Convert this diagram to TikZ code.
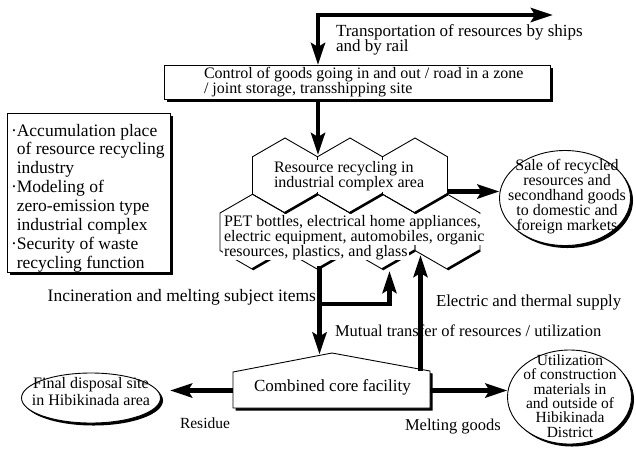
\documentclass[tikz,border=0pt]{standalone}
\usepackage{fontspec}
\setmainfont{Liberation Serif}
\usetikzlibrary{arrows.meta,shapes.geometric,shadows}
\newcommand{\myfs}[2]{\fontsize{#1}{#2}\selectfont}
\begin{document}
\begin{tikzpicture}[x=1pt,y=-1pt,
  every node/.style={inner sep=0pt, outer sep=0pt},
  lbl/.style={font=\myfs{17}{15.5}},
  boxshadow/.style={drop shadow={shadow xshift=2.5pt,shadow yshift=-2.5pt,fill=black,opacity=1}},
  framebox/.style={draw, line width=0.9pt, fill=white, boxshadow},
  hexline/.style={line width=0.9pt},
  hexshadow/.style={line width=2.6pt},
  pettxt/.style={font=\myfs{16}{15}, fill=white, inner xsep=1pt, inner ysep=0.8pt, anchor=base west},
  bigarrow/.style={line width=4.5pt, -{Stealth[length=22pt,width=14pt,inset=4pt]}},
  dblarrow/.style={line width=4.5pt, {Stealth[length=22pt,width=14pt,inset=4pt]}-{Stealth[length=22pt,width=14pt,inset=4pt]}},
]
\useasboundingbox (0,0) rectangle (636,448);

% honeycomb
\foreach \cx/\cy in {285/175.5, 350/175.5, 415/175.5, 252.5/231.75, 317.5/231.75, 382.5/231.75, 447.5/231.75}{
  \draw[hexline] (\cx,\cy-37.5) -- (\cx+32.5,\cy-18.75) -- (\cx+32.5,\cy+18.75) -- (\cx,\cy+37.5) -- (\cx-32.5,\cy+18.75) -- (\cx-32.5,\cy-18.75) -- cycle;
  \draw[hexshadow] (\cx,\cy+37.5) -- (\cx+32.5,\cy+18.75);
}
\node[lbl, font=\myfs{16}{15}, fill=white, inner sep=1pt, align=left, anchor=west] (rrtxt) at (273,176) {Resource recycling in\\industrial complex area};
\node[pettxt] (pet1) at (223,226) {PET bottles, electrical home appliances,};
\node[pettxt] (pet2) at (223,241) {electric equipment, automobiles, organic};
\node[pettxt] (pet3) at (223,256) {resources, plastics, and glass};

% control box and transport arrow
\node[framebox, minimum width=386.5pt, minimum height=34.5pt] (ctrl) at (357.25,82.25) {};
\node[font=\myfs{16}{15}, align=left, anchor=west] (ctrltxt) at (204,81.75) {Control of goods going in and out / road in a zone\\/ joint storage, transshipping site};
\coordinate (topL) at (318,15);
\coordinate (topR) at (553,15);
\coordinate (hexV) at (318,155);
\draw[dblarrow] (ctrl.north -| topL) -- (topL) -- (topR);
\node[lbl, align=left, anchor=west] (transtxt) at (336,40) {Transportation of resources by ships\\and by rail};
\draw[bigarrow] (ctrl.south -| topL) -- (hexV);

% left box
\node[framebox, minimum width=163pt, minimum height=159pt] (leftbox) at (88.5,192.5) {};
\node[font=\myfs{17.5}{18.9}, align=left, anchor=west] (lefttxt) at (11,198) {\textperiodcentered Accumulation place\\\hphantom{\textperiodcentered}of resource recycling\\\hphantom{\textperiodcentered}industry\\\textperiodcentered Modeling of\\\hphantom{\textperiodcentered}zero-emission type\\\hphantom{\textperiodcentered}industrial complex\\\textperiodcentered Security of waste\\\hphantom{\textperiodcentered}recycling function};

% sale ellipse
\coordinate (hexR) at (447.5,191.5);
\node[framebox, ellipse, minimum width=131pt, minimum height=95pt] (sale) at (565,198) {};
\node[font=\myfs{16}{15}, align=center] (saletxt) at (567,196.3) {Sale of recycled\\resources and\\secondhand goods\\to domestic and\\foreign markets};
\draw[bigarrow] (hexR) -- (hexR -| sale.west);

% combined core facility
\coordinate (cA) at (233,408);
\coordinate (cB) at (233,372);
\coordinate (cC) at (332,353);
\coordinate (cD) at (430,371);
\coordinate (cE) at (430,408);
\draw[framebox] (cA) -- (cB) -- (cC) -- (cD) -- (cE) -- cycle;
\node[font=\myfs{17}{17}, anchor=base] (coretxt) at (332.5,391.7) {Combined core facility};

% vertical flows
\coordinate (hb2) at (319.5,266);
\coordinate (split) at (319.5,304);
\coordinate (coretip) at (319.5,354.5);
\coordinate (bend) at (389.5,304);
\coordinate (hb3) at (389.5,271);
\draw[bigarrow] (hb2) -- (coretip);
\draw[bigarrow] (split) -- (bend) -- (hb3);
\coordinate (elecB) at (420.5,370.5);
\coordinate (elecT) at (420.5,255);
\draw[bigarrow] (elecB) -- (elecT);

\node[lbl, font=\myfs{17.5}{17}, anchor=base east] (incin) at (316,301.5) {Incineration and melting subject items};
\node[lbl, font=\myfs{16.8}{17}, anchor=base west] (elec) at (436,306) {Electric and thermal supply};
\node[lbl, font=\myfs{16.5}{17}, anchor=base west] (mutual) at (335,336) {Mutual transfer of resources / utilization};

% final disposal
\coordinate (coreL) at (233,390.5);
\coordinate (coreR) at (430,390.5);
\node[framebox, ellipse, minimum width=139pt, minimum height=50pt] (final) at (91,398) {};
\node[font=\myfs{16}{17.3}, align=center] (finaltxt) at (91,391.6) {Final disposal site\\in Hibikinada area};
\coordinate (finaltip) at (170,390.5);
\draw[bigarrow] (coreL) -- (finaltip);
\node[font=\myfs{15.5}{15}, anchor=base west] (residue) at (180,428) {Residue};

% utilization
\node[framebox, ellipse, minimum width=124pt, minimum height=94pt] (util) at (569.5,397) {};
\node[font=\myfs{15.5}{14.4}, align=center] (utiltxt) at (570,396) {Utilization\\of construction\\materials in\\and outside of\\Hibikinada\\District};
\draw[bigarrow] (coreR) -- (coreR -| util.west);
\node[font=\myfs{16.5}{15}, anchor=base west] (melt) at (405,430) {Melting goods};
\end{tikzpicture}
\end{document}
